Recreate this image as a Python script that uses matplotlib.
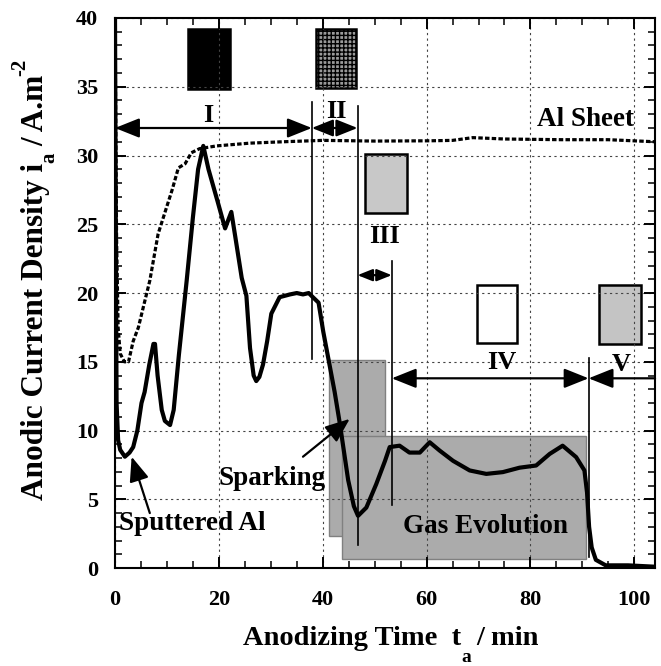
"""
plot.py

Anodic current density vs anodizing time for sputtered Al and Al sheet,
with the five growth stages (I-V) marked.
"""
import matplotlib
matplotlib.use("Agg")
import matplotlib.pyplot as plt
from matplotlib.patches import Rectangle

# sputtered Al (solid curve)
sputtered_t = [0, 0.15, 0.3, 0.6, 1.0, 1.9, 2.8, 3.5, 4.3, 5.1, 5.7, 6.6, 7.4, 7.7,
               8.2, 9.0, 9.6, 10.6, 11.3, 12.3, 13.8, 15.0, 16.0, 17.0, 18.0, 19.2,
               19.8, 21.2, 22.4, 23.2, 24.4, 25.3, 26.0, 26.7, 27.2, 27.8, 28.5, 29.3,
               30.1, 31.7, 33.7, 35.0, 36.2, 37.3, 38.1, 39.2, 40.1, 41.3, 42.3, 43.3,
               44.9, 46.0, 46.8, 48.4, 50.3, 52.0, 52.9, 54.8, 56.7, 58.7, 60.6, 62.5,
               65.1, 68.3, 71.5, 74.7, 77.9, 81.1, 83.7, 86.2, 88.8, 90.4, 90.9, 91.3,
               91.8, 92.6, 94.5, 98.8, 104.0]
sputtered_i = [40, 25, 12, 9.3, 8.6, 8.1, 8.4, 8.8, 10.0, 12.0, 12.8, 14.8, 16.3, 16.3,
               14.0, 11.5, 10.7, 10.4, 11.5, 15.5, 20.9, 25.5, 29.0, 30.7, 29.0, 27.4,
               26.6, 24.7, 25.9, 24.0, 21.1, 19.8, 16.0, 14.0, 13.6, 13.9, 14.8, 16.5,
               18.5, 19.7, 19.9, 20.0, 19.9, 20.0, 19.7, 19.3, 17.2, 14.8, 12.8, 10.5,
               6.4, 4.5, 3.8, 4.4, 6.1, 7.8, 8.8, 8.9, 8.4, 8.4, 9.15, 8.55,
               7.8, 7.1, 6.85, 6.98, 7.3, 7.46, 8.3, 8.9, 8.07, 7.1, 5.5, 3.0,
               1.5, 0.6, 0.2, 0.2, 0.1]

# Al sheet (dashed curve)
sheet_t = [0, 0.3, 0.6, 1.0, 1.8, 2.6, 3.5, 4.5, 5.4, 6.7, 8.3, 9.9, 11.0, 12.2, 13.5,
           14.7, 16.3, 19.6, 26.0, 32.4, 40, 50, 60.6, 65, 68.9, 75, 86, 95, 104]
sheet_i = [40, 24, 17.5, 15.6, 15.0, 15.0, 16.5, 17.5, 18.9, 20.9, 24.3, 26.2, 27.5,
           29.1, 29.4, 30.2, 30.5, 30.7, 30.9, 31.0, 31.1, 31.05, 31.07, 31.1, 31.3,
           31.2, 31.15, 31.15, 31.0]

# stage boundaries: (t, i_bottom, i_top)
BOUNDARIES = [(37.9, 15.2, 33.9), (46.7, 1.7, 33.6), (53.3, 4.6, 22.3), (91.2, 0.8, 15.3)]
STAGE_LABELS = ['I', 'II', 'III', 'IV', 'V']
STAGE_POS = [(17.9, 32.9), (42.6, 33.2), (51.9, 24.1), (74.4, 14.95), (97.4, 14.8)]

# little stage icons: (t0, t1, i0, i1, face, hatch)
ICONS = [(14.1, 22.1, 34.8, 39.2, 'black', None),
         (38.7, 46.5, 34.9, 39.2, '#9a9a9a', '++++'),
         (48.2, 56.2, 25.8, 30.1, '#c8c8c8', None),
         (69.7, 77.4, 16.4, 20.6, 'white', None),
         (93.3, 101.3, 16.3, 20.6, '#c4c4c4', None)]

SERIF = 'Liberation Serif'
W, H = 661, 666
HEAD = ',head_length=1.0,head_width=0.4'


def arrow(ax, x0, y0, x1, y1, style, scale=15):
    ax.annotate('', xy=(x1, y1), xytext=(x0, y0),
                arrowprops=dict(arrowstyle=style + HEAD, lw=1.6, color='black',
                                mutation_scale=scale, shrinkA=0, shrinkB=0),
                zorder=6, annotation_clip=False)


def ftext(fig, px, py, s, **kw):
    """Place text at a pixel position (top-left origin)."""
    return fig.text(px / W, 1 - py / H, s, fontweight='bold', **kw)


def main():
    plt.rcParams['font.family'] = SERIF
    plt.rcParams['font.weight'] = 'bold'

    fig = plt.figure(figsize=(W / 100, H / 100), dpi=100)
    ax = fig.add_axes([0.174, 0.147, 0.817, 0.826])

    # shaded regions: sparking below, gas evolution on top
    ax.add_patch(Rectangle((41.2, 2.3), 51.9 - 41.2, 15.1 - 2.3, facecolor='#ababab',
                           edgecolor='#808080', lw=1, zorder=0.3))
    ax.add_patch(Rectangle((43.7, 0.63), 90.7 - 43.7, 9.64 - 0.63, facecolor='#ababab',
                           edgecolor='#808080', lw=1, zorder=0.35))

    for t0, t1, i0, i1, face, hatch in ICONS:
        ax.add_patch(Rectangle((t0, i0), t1 - t0, i1 - i0, facecolor=face,
                               edgecolor='black', lw=1.8, hatch=hatch, zorder=0.4))

    ax.plot(sheet_t, sheet_i, color='black', lw=2.3, linestyle=(0, (1.4, 0.7)),
            dash_capstyle='butt', zorder=3)
    ax.plot(sputtered_t, sputtered_i, color='black', lw=3.0, zorder=4)

    for t, lo, hi in BOUNDARIES:
        ax.plot([t, t], [lo, hi], color='black', lw=1.2, zorder=5)

    # stage arrows
    arrow(ax, 0, 32.0, 37.9, 32.0, '<|-|>')
    arrow(ax, 37.9, 32.0, 46.7, 32.0, '<|-|>', scale=13)
    arrow(ax, 46.7, 21.3, 53.3, 21.3, '<|-|>', scale=9)
    arrow(ax, 53.3, 13.8, 91.2, 13.8, '<|-|>')
    arrow(ax, 104, 13.8, 91.2, 13.8, '-|>')

    for label, (x, y) in zip(STAGE_LABELS, STAGE_POS):
        ax.text(x, y, label, fontsize=19, fontweight='bold', ha='center', va='center',
                zorder=6)

    ax.text(100, 31.7, 'Al Sheet', fontsize=19.5, fontweight='bold', ha='right',
            va='bottom', zorder=6)
    ax.text(40.6, 6.5, 'Sparking', fontsize=19.5, fontweight='bold', ha='right',
            va='center', zorder=6)
    ax.text(0.7, 3.26, 'Sputtered Al', fontsize=19.5, fontweight='bold', ha='left',
            va='center', zorder=6)
    ax.text(71.3, 3.0, 'Gas Evolution', fontsize=19.5, fontweight='bold', ha='center',
            va='center', zorder=6)
    arrow(ax, 36.2, 8.1, 45.2, 10.85, '-|>')
    arrow(ax, 6.7, 4.0, 3.2, 8.1, '-|>')

    ax.set_xlim(0, 104)
    ax.set_ylim(0, 40)
    ax.set_xticks(range(0, 101, 20))
    ax.set_xticks(range(0, 105, 5), minor=True)
    ax.set_yticks(range(0, 41, 5))
    ax.set_yticks(range(0, 41, 1), minor=True)
    ax.tick_params(which='both', direction='in', top=True, right=True, labelsize=16)
    ax.tick_params(axis='x', pad=16)
    ax.tick_params(axis='y', pad=12)
    ax.tick_params(which='major', length=8, width=1.4)
    ax.tick_params(which='minor', length=5, width=1.1)
    for lab in ax.get_xticklabels() + ax.get_yticklabels():
        lab.set_fontweight('bold')
    for sp in ax.spines.values():
        sp.set_linewidth(1.5)

    ax.set_axisbelow(True)
    ax.grid(True, which='major', color='#444444', lw=0.8, linestyle=(0, (2, 3)))

    # x label with a low-hanging subscript
    ftext(fig, 243, 645, 'Anodizing Time  t', fontsize=20.5, ha='left', va='baseline')
    ftext(fig, 466, 657, 'a', fontsize=14, ha='center', va='center')
    ftext(fig, 476, 645, '/ min', fontsize=20.5, ha='left', va='baseline')

    # y label, rotated, same treatment
    rot = dict(rotation=90, rotation_mode='anchor', va='baseline', ha='left')
    ftext(fig, 43, 500, 'Anodic Current Density i', fontsize=22.5, **rot)
    ftext(fig, 49, 158, 'a', fontsize=15, rotation=90, ha='center', va='center')
    ftext(fig, 43, 146, '/ A.m', fontsize=22.5, **rot)
    ftext(fig, 25, 76, '-2', fontsize=15, **rot)

    fig.savefig('out.png', dpi=100)
    plt.close(fig)


if __name__ == "__main__":
    main()
